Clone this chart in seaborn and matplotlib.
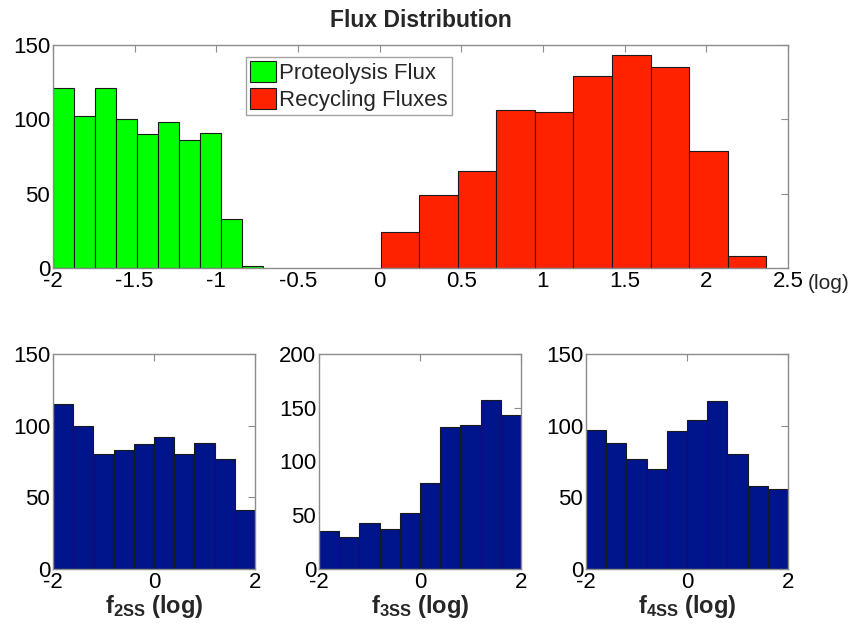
import numpy as np
import pandas as pd
import matplotlib
matplotlib.use("Agg")
import matplotlib.pyplot as plt
import seaborn as sns

# Histogram counts (pre-binned)
proteolysis_counts = [121, 102, 121, 100, 90, 98, 86, 91, 33, 1]
proteolysis_start, proteolysis_width = -2.0, 0.1286

recycling_counts = [24, 49, 65, 106, 105, 129, 143, 135, 79, 8]
recycling_start, recycling_width = 0.006, 0.2361

f2ss_counts = [115, 100, 80, 83, 87, 92, 80, 88, 77, 41]
f3ss_counts = [35, 30, 43, 37, 52, 80, 132, 134, 157, 143]
f4ss_counts = [97, 88, 77, 70, 96, 104, 117, 80, 58, 56]
small_edges = list(np.linspace(-2, 2, 11))

top_xticks = [-2, -1.5, -1, -0.5, 0, 0.5, 1, 1.5, 2, 2.5]
top_xticklabels = ["-2", "-1.5", "-1", "-0.5", "0", "0.5", "1", "1.5", "2", "2.5"]
top_yticks = [0, 50, 100, 150]

GREEN = "#00ff00"
RED = "#ff2200"
NAVY = "#00148c"
SPINE = "#8c8c8c"

sns.set_style("white")
plt.rcParams["font.family"] = ["Liberation Sans", "DejaVu Sans"]
plt.rcParams["mathtext.fontset"] = "custom"
plt.rcParams["mathtext.rm"] = "Liberation Sans"
plt.rcParams["mathtext.bf"] = "Liberation Sans:bold"


def edges_from(start, width, n):
    return [start + width * i for i in range(n + 1)]


def draw_hist(ax, counts, edges, color, label=None):
    edges = [float(e) for e in edges]
    centers = [0.5 * (a + b) for a, b in zip(edges[:-1], edges[1:])]
    df = pd.DataFrame({"x": centers, "w": counts})
    sns.histplot(data=df, x="x", weights="w", bins=edges, ax=ax,
                 color=color, alpha=1.0, edgecolor="#1a1a1a", linewidth=0.8,
                 label=label)


def style_axes(ax):
    for s in ax.spines.values():
        s.set_visible(True)
        s.set_color(SPINE)
        s.set_linewidth(1.0)
    ax.tick_params(direction="in", top=True, right=True, length=5,
                   width=0.8, color=SPINE, labelsize=16, pad=2,
                   labelcolor="black")
    ax.set_xlabel("")
    ax.set_ylabel("")


fig = plt.figure(figsize=(8.53, 6.29), dpi=100)

# Top panel
ax_top = fig.add_axes([0.0621, 0.574, 0.8617, 0.3545])
draw_hist(ax_top, proteolysis_counts,
          edges_from(proteolysis_start, proteolysis_width, len(proteolysis_counts)),
          GREEN, "Proteolysis Flux")
draw_hist(ax_top, recycling_counts,
          edges_from(recycling_start, recycling_width, len(recycling_counts)),
          RED, "Recycling Fluxes")
ax_top.set_xlim(-2, 2.5)
ax_top.set_ylim(0, 150)
ax_top.set_xticks(top_xticks)
ax_top.set_xticklabels(top_xticklabels)
ax_top.set_yticks(top_yticks)
style_axes(ax_top)
ax_top.set_title("Flux Distribution", fontsize=16.5, fontweight="bold", pad=13)
ax_top.text(1.027, -0.028, "(log)", transform=ax_top.transAxes,
            ha="left", va="top", fontsize=15)
leg = ax_top.legend(loc="upper left", bbox_to_anchor=(0.262, 0.948),
                    fontsize=16, frameon=True, fancybox=False,
                    borderpad=0.2, labelspacing=0.15, handlelength=1.15,
                    handleheight=1.1, handletextpad=0.15, borderaxespad=0)
leg.get_frame().set_edgecolor(SPINE)
leg.get_frame().set_linewidth(1.0)

# Bottom panels
bottom_specs = [
    (0.0621, f2ss_counts, 150, [0, 50, 100, 150], r"$\mathbf{f_{2SS}}$"),
    (0.3740, f3ss_counts, 200, [0, 50, 100, 150, 200], r"$\mathbf{f_{3SS}}$"),
    (0.6870, f4ss_counts, 150, [0, 50, 100, 150], r"$\mathbf{f_{4SS}}$"),
]
for left, counts, ymax, yticks, name in bottom_specs:
    ax = fig.add_axes([left, 0.0954, 0.2368, 0.3418])
    draw_hist(ax, counts, small_edges, NAVY)
    ax.set_xlim(-2, 2)
    ax.set_ylim(0, ymax)
    ax.set_xticks([-2, 0, 2])
    ax.set_xticklabels(["-2", "0", "2"])
    ax.set_yticks(yticks)
    style_axes(ax)
    ax.set_xlabel(name + r" $\mathbf{(log)}$", fontsize=17, fontweight="bold",
                  labelpad=0)

fig.savefig("out.png", dpi=100)
